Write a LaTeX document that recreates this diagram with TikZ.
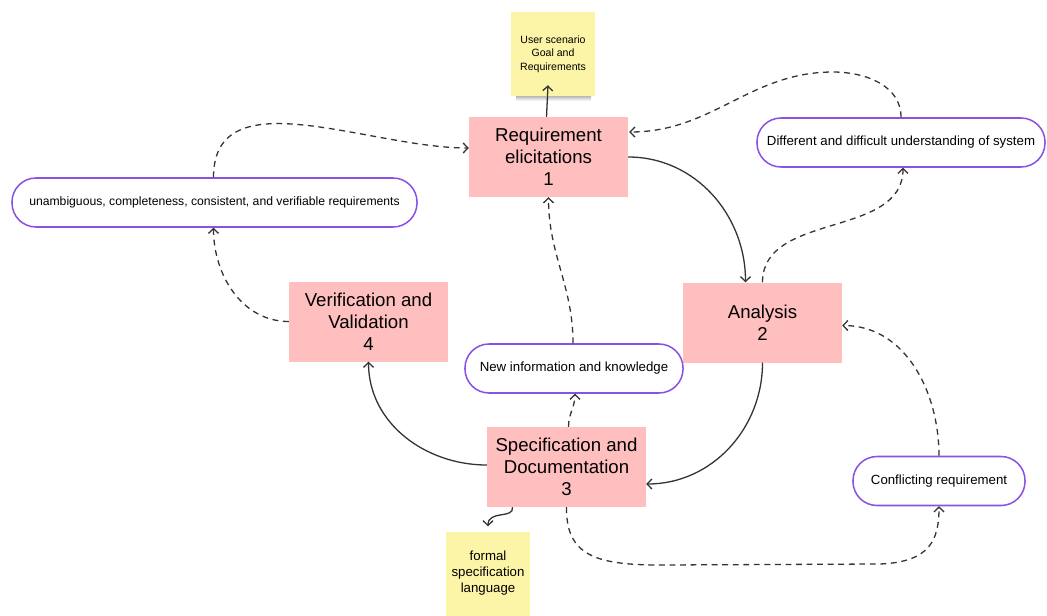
\documentclass[tikz,border=0pt]{standalone}
\usepackage{fontspec}
\setmainfont{Liberation Sans}
\usetikzlibrary{arrows.meta,calc}
\definecolor{boxpink}{HTML}{FFBFBF}
\definecolor{notey}{HTML}{FCF4A6}
\definecolor{pillpurple}{HTML}{8A52E3}
\definecolor{wire}{HTML}{333333}

\begin{document}
\begin{tikzpicture}[x=0.03cm,y=-0.03cm,
  stage/.style={rectangle,fill=boxpink,minimum width=4.77cm,minimum height=2.4cm,
    inner sep=0pt,align=center,font=\fontsize{15.9}{18.7}\selectfont},
  sticky/.style={rectangle,fill=notey,minimum width=2.52cm,minimum height=2.52cm,
    inner sep=0pt,align=center},
  pill/.style={rectangle,draw=pillpurple,line width=1.3pt,fill=white,
    rounded corners=0.72cm,minimum height=1.47cm,inner sep=0pt,align=center,
    font=\fontsize{11.3}{13.6}\selectfont},
  flow/.style={draw=wire,line width=1.1pt,-{Straight Barb[length=4pt,width=8.5pt]}},
  hint/.style={flow,dash pattern=on 5pt off 4pt}]

\fill[white] (0,0) rectangle (1047,615);
\useasboundingbox (0,0) rectangle (1047,615);

% sticky notes
\shade[top color=black!28,bottom color=white] (516,96) rectangle (591,101);
\node[sticky,font=\fontsize{9}{11.5}\selectfont] (ust) at (553,54)
  {User scenario\\Goal and\\Requirements};
\node[sticky,font=\fontsize{11.3}{13.6}\selectfont] (fsl) at (488,573.5)
  {formal\\specification\\language};

% process stages
\node[stage] (req) at (548.5,157)   {Requirement\\elicitations\\1};
\node[stage] (ana) at (762.5,322.5) {Analysis\\2};
\node[stage] (spec) at (566.5,467)  {Specification and\\Documentation\\3};
\node[stage] (ver) at (368.5,321.5) {Verification and\\Validation\\4};

% outcome pills
\node[pill,minimum width=12.15cm,font=\fontsize{10.4}{12.5}\selectfont] (unamb) at (214.5,202.5)
  {unambiguous, completeness, consistent, and verifiable requirements};
\node[pill,minimum width=8.64cm] (diff) at (901,142.5)
  {Different and difficult understanding of system};
\node[pill,minimum width=6.54cm] (newi) at (574,368.5)
  {New information and knowledge};
\node[pill,minimum width=5.16cm] (conf) at (939,481)
  {Conflicting requirement};

\coordinate (arcTop) at (833,72);

% main cycle
\draw[flow] ($(req.north)+(-2,0)$) -- ($(ust.south)+(-5,-11)$);
\draw[flow] (req.east) to[out=0,in=90] ($(ana.north)+(-17,0)$);
\draw[flow] (ana.south) to[out=-90,in=0] ($(spec.east)+(0,17)$);
\draw[flow] ($(spec.west)+(0,-2)$) to[out=180,in=-90] (ver.south);
\draw[flow] ($(spec.south)+(-54,0)$) .. controls (514,519) and (488,510) .. ($(fsl.north)+(0,-5)$);

% feedback paths
\draw[hint] (ver.west) to[out=180,in=-90] ($(unamb.south)+(-1,0)$);
\draw[hint] ($(unamb.north)+(-1,0)$) to[out=90,in=180] ($(req.west)+(0,-9)$);
\draw[hint] (diff.north) to[out=90,in=0] (arcTop) to[out=180,in=0] ($(req.east)+(1,-25)$);
\draw[hint] (ana.north) to[out=90,in=-90] ($(diff.south)+(2,0)$);
\draw[hint] (conf.north) to[out=90,in=0] ($(ana.east)+(0,3)$);
\draw[hint] (spec.south) .. controls (566,555) and (595,565) .. (660,565)
  -- (880,564) .. controls (930,562) and (939,540) .. (conf.south);
\draw[hint] ($(spec.north)+(2,0)$) to[out=90,in=-90] ($(newi.south)+(1,0)$);
\draw[hint] ($(newi.north)+(-1,0)$) to[out=90,in=-90] (req.south);

\end{tikzpicture}
\end{document}
